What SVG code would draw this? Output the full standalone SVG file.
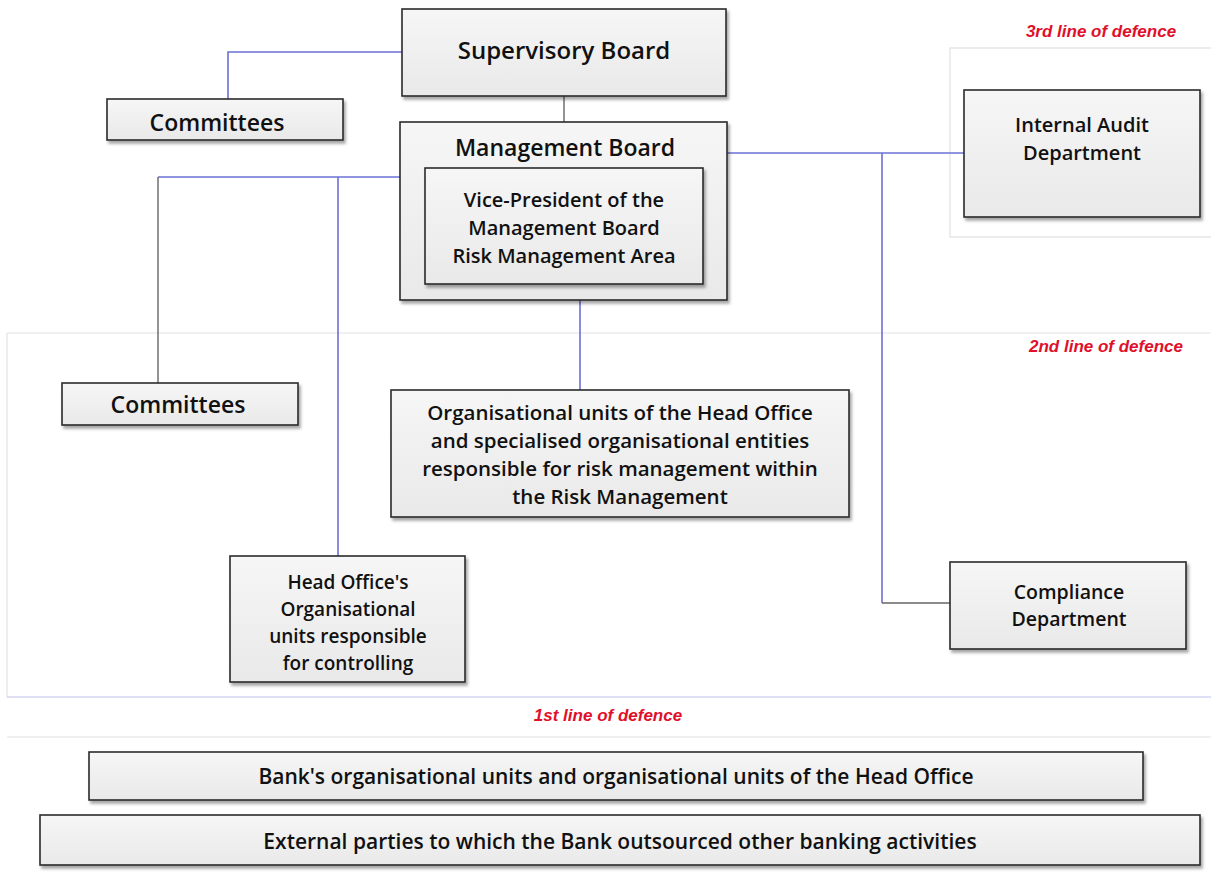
<svg xmlns="http://www.w3.org/2000/svg" width="1211" height="892" viewBox="0 0 1211 892">
<defs>
<linearGradient id="g" x1="0" y1="0" x2="0" y2="1">
<stop offset="0" stop-color="#f6f6f6"/><stop offset="1" stop-color="#e9e9e9"/>
</linearGradient>
<filter id="sh" x="-5%" y="-5%" width="112%" height="120%">
<feDropShadow dx="2" dy="3" stdDeviation="1.5" flood-color="#000" flood-opacity="0.35"/>
</filter>
</defs>
<style>
.box{fill:url(#g);stroke:#2a2a2a;stroke-width:1.6;filter:url(#sh)}
.t{font-family:"Open Sans","Noto Sans",sans-serif;font-weight:600;fill:#111;text-anchor:middle}
.lod{font-family:"Liberation Sans",Arial,sans-serif;font-weight:bold;font-style:italic;font-size:17px;fill:#e0102a;text-anchor:middle}
.c{fill:none;stroke:#6c70d4;stroke-width:1.6}
.cg{fill:none;stroke:#666;stroke-width:1.4}
.band{fill:none;stroke:#e2e2e2;stroke-width:1.2}
</style>
<rect width="1211" height="892" fill="#fff"/>
<g id="bands">
<rect class="band" x="950" y="48" width="270" height="189"/>
<line class="band" x1="7" y1="333" x2="1211" y2="333"/>
<line class="band" x1="7" y1="333" x2="7" y2="697"/>
<line x1="7" y1="697" x2="1211" y2="697" stroke="#d6d6f0" stroke-width="1.5"/>
<line class="band" x1="7" y1="737" x2="1211" y2="737"/>
<text class="lod" x="1101" y="37">3rd  line of defence</text>
<text class="lod" x="1106" y="352">2nd line of defence</text>
<text class="lod" x="608" y="721">1st line of defence</text>
</g>
<g id="connectors">
<polyline class="c" points="402,52 228,52 228,99"/>
<line class="cg" x1="564" y1="96" x2="564" y2="122"/>
<polyline class="c" points="400,177 158,177"/>
<line class="cg" x1="158" y1="177" x2="158" y2="383"/>
<line class="c" x1="338" y1="177" x2="338" y2="556"/>
<line class="c" x1="580" y1="284" x2="580" y2="390"/>
<line class="c" x1="727" y1="153" x2="964" y2="153"/>
<line class="c" x1="882" y1="153" x2="882" y2="603"/>
<line class="cg" x1="882" y1="603" x2="950" y2="603"/>
</g>
<g id="supervisory-board">
<rect class="box" x="402" y="9" width="324" height="87"/>
<text class="t" x="564" y="59" font-size="24">Supervisory Board</text>
</g>
<g id="committees-1">
<rect class="box" x="107" y="99" width="236" height="41"/>
<text class="t" x="217" y="131" font-size="23">Committees</text>
</g>
<g id="management-board">
<rect class="box" x="400" y="122" width="327" height="178"/>
<text class="t" x="565" y="156" font-size="23">Management Board</text>
</g>
<g id="vice-president">
<rect class="box" x="425" y="168" width="278" height="116"/>
<text class="t" font-size="20"><tspan x="564" y="207">Vice-President of the</tspan><tspan x="564" y="235">Management Board</tspan><tspan x="564" y="263">Risk Management Area</tspan></text>
</g>
<g id="internal-audit">
<rect class="box" x="964" y="90" width="236" height="127"/>
<text class="t" font-size="20"><tspan x="1082" y="132">Internal Audit</tspan><tspan x="1082" y="160">Department</tspan></text>
</g>
<g id="committees-2">
<rect class="box" x="62" y="383" width="236" height="42"/>
<text class="t" x="178" y="413" font-size="23">Committees</text>
</g>
<g id="risk-units">
<rect class="box" x="391" y="390" width="458" height="127"/>
<text class="t" font-size="20.5"><tspan x="620" y="420">Organisational units of the Head Office</tspan><tspan x="620" y="448">and specialised organisational entities</tspan><tspan x="620" y="476">responsible for risk management within</tspan><tspan x="620" y="504">the Risk Management</tspan></text>
</g>
<g id="controlling-units">
<rect class="box" x="230" y="556" width="235" height="126"/>
<text class="t" font-size="19"><tspan x="348" y="589">Head Office's</tspan><tspan x="348" y="616">Organisational</tspan><tspan x="348" y="643">units responsible</tspan><tspan x="348" y="670">for controlling</tspan></text>
</g>
<g id="compliance">
<rect class="box" x="950" y="562" width="236" height="87"/>
<text class="t" font-size="19.5"><tspan x="1069" y="599">Compliance</tspan><tspan x="1069" y="626">Department</tspan></text>
</g>
<g id="bank-units">
<rect class="box" x="89" y="752" width="1054" height="48"/>
<text class="t" x="616" y="784" font-size="21">Bank's organisational units and organisational units of the Head Office</text>
</g>
<g id="external-parties">
<rect class="box" x="40" y="815" width="1160" height="50"/>
<text class="t" x="620" y="849" font-size="21">External parties to which the Bank outsourced other banking activities</text>
</g>
</svg>
